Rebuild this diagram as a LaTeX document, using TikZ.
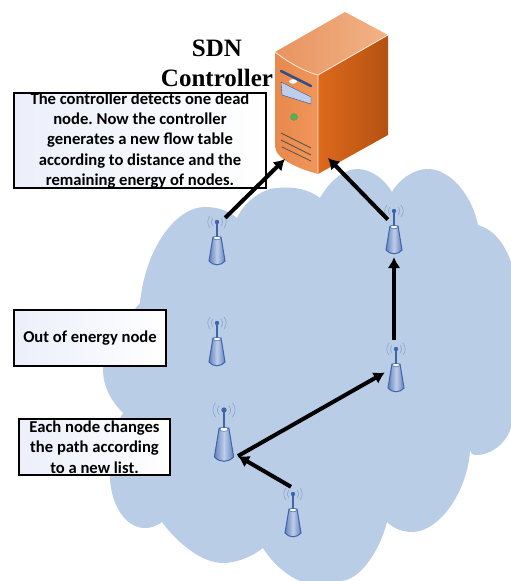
\documentclass[tikz,border=0pt]{standalone}
\usepackage{fontspec}
\setmainfont{Carlito}
\newfontfamily\titlefont{Liberation Serif}
\usetikzlibrary{positioning,arrows.meta}

\definecolor{cloudblue}{RGB}{186,205,231}
\definecolor{towerblue}{RGB}{62,100,170}
\definecolor{towerlight}{RGB}{190,205,235}
\definecolor{boxtint}{RGB}{236,239,250}

\tikzset{
  notebox/.style={draw, line width=2.6pt, left color=boxtint, right color=white, align=center, font=\bfseries\frenchspacing\fontsize{16.6pt}{20.4pt}\selectfont, inner xsep=0pt, inner ysep=-5pt},
  hop/.style={line width=4pt, -{Latex[length=11pt,width=13pt]}},
  towerbox/.style={minimum width=16pt, minimum height=47pt, inner sep=0pt}
}

% one tower: name, x and y of the aerial tip, size
\newcommand{\sensornode}[4]{
  \node [towerbox, scale=#4] (#1) at (#2,#3+19.5*#4) {};
  \begin{scope}[shift={(#2,#3)}, scale=#4]
    \shade [left color=towerblue!80, right color=towerblue!80, middle color=towerlight] (-4,15) -- (4,15) -- (8,39) .. controls (4,44) and (-4,44) .. (-8,39) -- cycle;
    \draw [towerblue, line width=1pt] (-4,15) -- (4,15) -- (8,39) .. controls (4,44) and (-4,44) .. (-8,39) -- cycle;
    \fill [white, draw=towerblue, line width=.5pt] (0,16) ellipse (3.5 and 1.8);
    \draw [towerblue, line width=1.1pt] (0,15) -- (0,0);
    \fill [towerblue] (0,0) circle (2.2pt);
    \draw [towerblue!60, line width=.6pt]
      (-4,-4) .. controls (-6,-1) and (-6,1) .. (-4,4)
      (4,-4) .. controls (6,-1) and (6,1) .. (4,4)
      (-7,-6) .. controls (-10,-2) and (-10,2) .. (-7,6)
      (7,-6) .. controls (10,-2) and (10,2) .. (7,6);
  \end{scope}
}

\begin{document}
\begin{tikzpicture}[x=1pt, y=-1pt]
\useasboundingbox (0,0) rectangle (511,581);

%cloud
\fill [cloudblue] (140,303) .. controls (145,250) and (175,207) .. (205,207)
  .. controls (220,207) and (230,212) .. (237,218)
  .. controls (245,200) and (265,188) .. (277,188)
  .. controls (295,186) and (310,190) .. (320,198)
  .. controls (330,180) and (345,169) .. (357,169)
  .. controls (372,169) and (385,180) .. (392,192)
  .. controls (400,178) and (415,169) .. (428,169)
  .. controls (450,169) and (472,195) .. (478,225)
  .. controls (495,230) and (505,245) .. (511,262)
  -- (511,428)
  .. controls (505,445) and (490,455) .. (477,455)
  .. controls (472,455) and (470,453) .. (470,450)
  .. controls (468,490) and (440,532) .. (412,532)
  .. controls (402,532) and (393,528) .. (387,522)
  .. controls (380,550) and (360,581) .. (340,581)
  -- (300,581)
  .. controls (285,575) and (270,560) .. (263,548)
  .. controls (250,558) and (235,563) .. (223,563)
  .. controls (200,563) and (175,540) .. (162,522)
  .. controls (155,527) and (150,528) .. (145,528)
  .. controls (125,528) and (112,505) .. (110,480)
  .. controls (108,455) and (112,430) .. (123,413)
  .. controls (110,400) and (103,385) .. (103,370)
  .. controls (103,345) and (125,320) .. (140,303) -- cycle;

%server
\shade [left color={rgb,255:red,232;green,136;blue,76}, right color={rgb,255:red,240;green,150;blue,90}]
  (275,52) .. controls (288,62) and (303,71) .. (318,75) -- (318,174)
  .. controls (303,170) and (275,160) .. (275,146) -- cycle;
\shade [left color={rgb,255:red,222;green,105;blue,28}, right color={rgb,255:red,180;green,82;blue,18}]
  (318,75) -- (388,35) -- (388,135) -- (318,174) -- cycle;
\shade [left color={rgb,255:red,232;green,148;blue,96}, right color={rgb,255:red,242;green,178;blue,135}]
  (275,52) -- (345,12) -- (388,35) -- (318,75) .. controls (303,71) and (288,62) .. (275,52) -- cycle;
\draw [white!85!orange, line width=.8pt] (275,52) .. controls (288,62) and (303,71) .. (318,75) -- (388,35) (318,75) -- (318,174);
\draw [line width=2.6pt, towerblue!80!black, line cap=round] (281,71) -- (311,86);
\fill [towerlight, draw=towerblue!80!black] (281,82) -- (311,97) -- (311,104) -- (282,95) -- cycle;
\fill [white] (293,81.5) ellipse (4 and 2.2);
\fill [green!45!gray, draw=gray] (294,117) circle (3.5pt);
\draw [black!70, line width=.7pt] (281,133) -- (311,148) (281,140) -- (311,155) (282,147) -- (311,161);
\coordinate (serverleft) at (285,159);
\coordinate (serverright) at (328,158);
\coordinate (elbow) at (238,456);

%nodes
\node [font=\titlefont\bfseries\fontsize{25pt}{30pt}\selectfont, align=center, inner sep=0pt] (title) at (217,63) {SDN\\Controller};
\node [notebox, minimum width=252pt, minimum height=95pt] (deadnote) at (140,140.5) {The controller detects one dead\\node. Now the controller\\generates a new flow table\\according to distance and the\\remaining energy of nodes.};
\node [notebox, minimum width=152pt, minimum height=56pt] (energynote) at (90,338) {Out of energy node};
\node [notebox, minimum width=151pt, minimum height=56pt] (listnote) at (94.5,447) {Each node changes\\the path according\\to a new list.};

\sensornode{a}{217}{222}{1}
\sensornode{b}{394}{211}{1}
\sensornode{c}{217}{323}{1}
\sensornode{d}{396}{349}{1}
\sensornode{e}{224}{410}{1.2}
\sensornode{f}{293}{494}{1}

%arrows
\draw [hop] (a.north east) -- (serverleft);
\draw [hop] ([xshift=2pt,yshift=11pt]b.west) -- (serverright);
\draw [hop] ([xshift=-2pt,yshift=5pt]d.north) -- ([yshift=-3pt]b.south);
\draw [hop] (elbow) -- ([xshift=-3pt,yshift=-4pt]d.west);
\draw [hop] ([xshift=-2pt,yshift=3pt]f.north) -- (elbow);
\end{tikzpicture}
\end{document}
